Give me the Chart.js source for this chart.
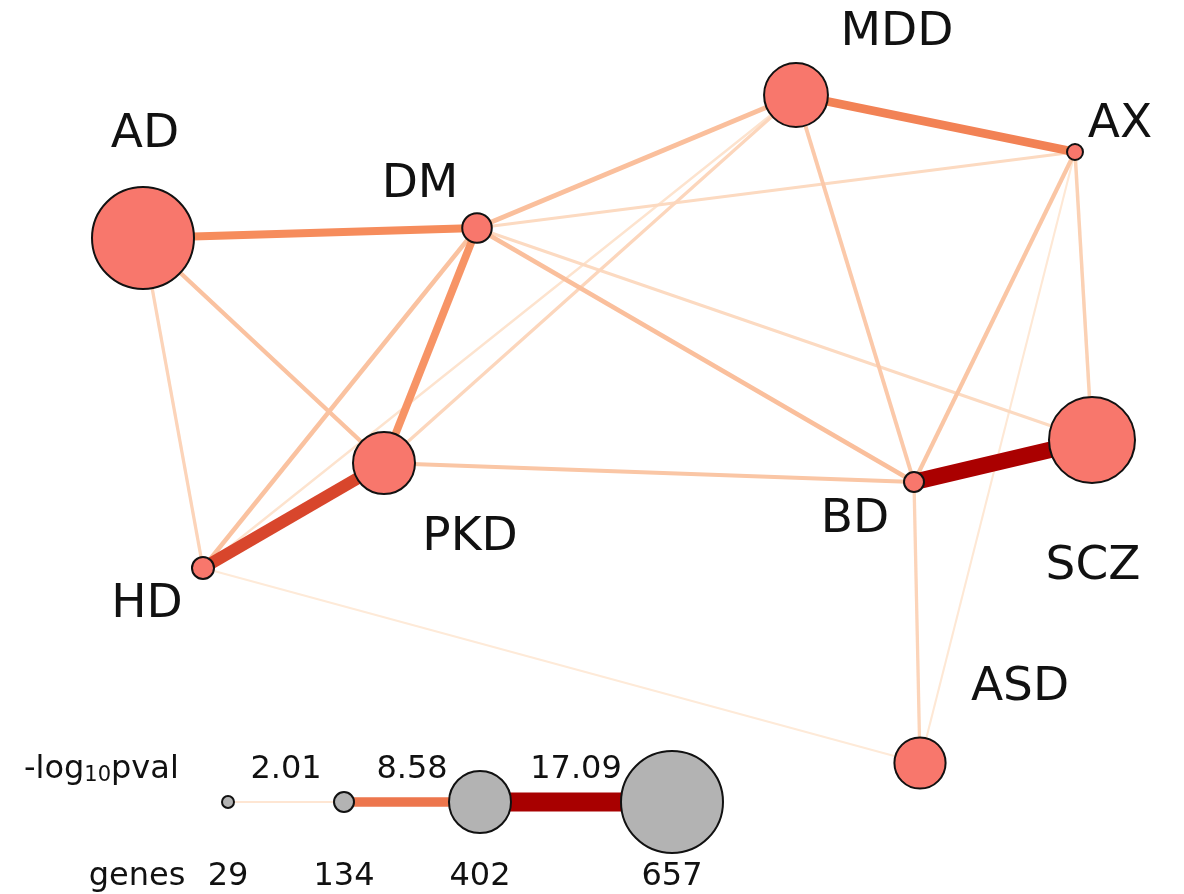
<!DOCTYPE html>
<html>
<head>
<meta charset="utf-8">
<script src="https://cdn.jsdelivr.net/npm/chart.js@4.4.1/dist/chart.umd.min.js"></script>
<style>
  html, body { margin: 0; padding: 0; background: #fff; }
  #wrap { width: 1184px; height: 894px; position: relative; }
</style>
</head>
<body>
<div id="wrap"><canvas id="net"></canvas></div>
<script>
// network nodes (layout coordinates) and gene counts
const nodeNames = ["AD", "DM", "MDD", "AX", "PKD", "BD", "SCZ", "HD", "ASD"];
const nodeX = [143, 477, 796, 1075, 384, 914, 1092, 203, 920];
const nodeY = [238, 228, 95, 152, 463, 482, 440, 568, 763];
const nodeGenes = [657, 195, 414, 81, 402, 134, 555, 147, 333];

// edges: -log10 p-value of overlap
const edgeFrom = ["AD", "DM", "MDD", "PKD", "BD", "AD", "DM", "DM", "DM", "MDD", "AX", "PKD", "AX", "BD", "AD", "DM", "DM", "PKD", "HD", "HD", "AX"];
const edgeTo = ["DM", "PKD", "AX", "HD", "SCZ", "PKD", "HD", "MDD", "BD", "BD", "BD", "BD", "SCZ", "ASD", "HD", "AX", "SCZ", "MDD", "MDD", "ASD", "ASD"];
const edgeLogP = [7.5, 7.0, 8.0, 11.0, 15.0, 4.0, 4.0, 4.2, 4.2, 3.6, 3.8, 3.8, 3.2, 3.0, 3.0, 2.7, 2.7, 2.9, 2.2, 1.8, 1.9];

// legend values
const legendLogP = [2.01, 8.58, 17.09];
const legendGenes = [29, 134, 402, 657];

// styling
const NODE_FILL = "#f8776c";
const LEGEND_FILL = "#b3b3b3";
const FONT = "'DejaVu Sans', sans-serif";
const WIDTH_PER_UNIT = 1.1;
const sizeStops = { genes: [29, 134, 402, 657], radius: [7, 11, 32, 52] };
const colorStops = [
    [1.8, [254, 234, 216]], [4.0, [250, 194, 160]], [7.5, [246, 140, 92]],
    [11.0, [216, 70, 44]], [15.0, [170, 0, 0]], [17.1, [168, 0, 0]]
];
const labelOffset = {
    AD: [2, -103], DM: [-57, -43], MDD: [101, -62], AX: [45, -27], PKD: [86, 75],
    BD: [-59, 38], SCZ: [1, 127], HD: [-56, 37], ASD: [100, -75]
};
const legendPos = { x: [228, 344, 480, 672], y: 802, textY: 770, genesY: 877 };

function geneRadius(g) {
    const gs = sizeStops.genes, rs = sizeStops.radius;
    if (g <= gs[0]) return rs[0];
    for (let i = 1; i < gs.length; i++) {
        if (g <= gs[i]) return rs[i - 1] + (g - gs[i - 1]) / (gs[i] - gs[i - 1]) * (rs[i] - rs[i - 1]);
    }
    return rs[rs.length - 1];
}

function edgeColor(v) {
    if (v <= colorStops[0][0]) return `rgb(${colorStops[0][1].join(",")})`;
    for (let i = 1; i < colorStops.length; i++) {
        const [v1, c1] = colorStops[i];
        const [v0, c0] = colorStops[i - 1];
        if (v <= v1) {
            const t = (v - v0) / (v1 - v0);
            return `rgb(${c0.map((c, k) => Math.round(c + t * (c1[k] - c))).join(",")})`;
        }
    }
    return `rgb(${colorStops[colorStops.length - 1][1].join(",")})`;
}

const idx = name => nodeNames.indexOf(name);

const datasets = [];

// edges, thin ones first so thick ones sit on top
edgeFrom.map((f, i) => i)
    .sort((a, b) => edgeLogP[a] - edgeLogP[b])
    .forEach((i, k) => {
        const a = idx(edgeFrom[i]), b = idx(edgeTo[i]);
        datasets.push({
            type: "scatter", showLine: true,
            data: [{ x: nodeX[a], y: nodeY[a] }, { x: nodeX[b], y: nodeY[b] }],
            borderColor: edgeColor(edgeLogP[i]), borderWidth: edgeLogP[i] * WIDTH_PER_UNIT,
            borderCapStyle: "butt", pointRadius: 0, order: 100 - k
        });
    });

// legend edges
legendLogP.forEach((v, i) => {
    datasets.push({
        type: "scatter", showLine: true,
        data: [{ x: legendPos.x[i], y: legendPos.y }, { x: legendPos.x[i + 1], y: legendPos.y }],
        borderColor: edgeColor(v), borderWidth: v * WIDTH_PER_UNIT,
        borderCapStyle: "butt", pointRadius: 0, order: 50
    });
});

// nodes
datasets.push({
    type: "scatter",
    data: nodeNames.map((n, i) => ({ x: nodeX[i], y: nodeY[i] })),
    pointRadius: nodeGenes.map(g => geneRadius(g) - 1),
    backgroundColor: NODE_FILL, borderColor: "#111", borderWidth: 2, order: 1
});

// legend nodes
datasets.push({
    type: "scatter",
    data: legendGenes.map((g, i) => ({ x: legendPos.x[i], y: legendPos.y })),
    pointRadius: legendGenes.map(g => geneRadius(g) - 1),
    backgroundColor: LEGEND_FILL, borderColor: "#111", borderWidth: 2, order: 0
});

const textPlugin = {
    id: "netText",
    afterDatasetsDraw(chart) {
        const { ctx, scales: { x, y } } = chart;
        ctx.save();
        ctx.fillStyle = "#111";
        ctx.textBaseline = "middle";
        ctx.textAlign = "center";
        ctx.font = `47px ${FONT}`;
        nodeNames.forEach((n, i) => {
            const [dx, dy] = labelOffset[n];
            ctx.fillText(n, x.getPixelForValue(nodeX[i]) + dx, y.getPixelForValue(nodeY[i]) + dy);
        });

        // legend texts
        ctx.font = `32px ${FONT}`;
        const ty = y.getPixelForValue(legendPos.textY);
        legendLogP.forEach((v, i) => {
            const cx = (x.getPixelForValue(legendPos.x[i]) + x.getPixelForValue(legendPos.x[i + 1])) / 2;
            ctx.fillText(v.toFixed(2), cx, ty);
        });
        const gy = y.getPixelForValue(legendPos.genesY);
        legendGenes.forEach((g, i) => ctx.fillText(String(g), x.getPixelForValue(legendPos.x[i]), gy));
        ctx.fillText("genes", x.getPixelForValue(137), gy);

        ctx.textAlign = "left";
        let lx = x.getPixelForValue(24);
        ctx.fillText("-log", lx, ty);
        lx += ctx.measureText("-log").width;
        ctx.font = `21px ${FONT}`;
        ctx.fillText("10", lx, ty + 6);
        lx += ctx.measureText("10").width;
        ctx.font = `32px ${FONT}`;
        ctx.fillText("pval", lx, ty);
        ctx.restore();
    }
};

new Chart(document.getElementById("net"), {
    type: "scatter",
    data: { datasets },
    options: {
        responsive: true,
        maintainAspectRatio: false,
        animation: false,
        clip: false,
        layout: { padding: 0, autoPadding: false },
        plugins: { legend: { display: false }, tooltip: { enabled: false } },
        scales: {
            x: { type: "linear", min: 0, max: 1184, display: false },
            y: { type: "linear", min: 0, max: 894, reverse: true, display: false }
        }
    },
    plugins: [textPlugin]
});
</script>
</body>
</html>
